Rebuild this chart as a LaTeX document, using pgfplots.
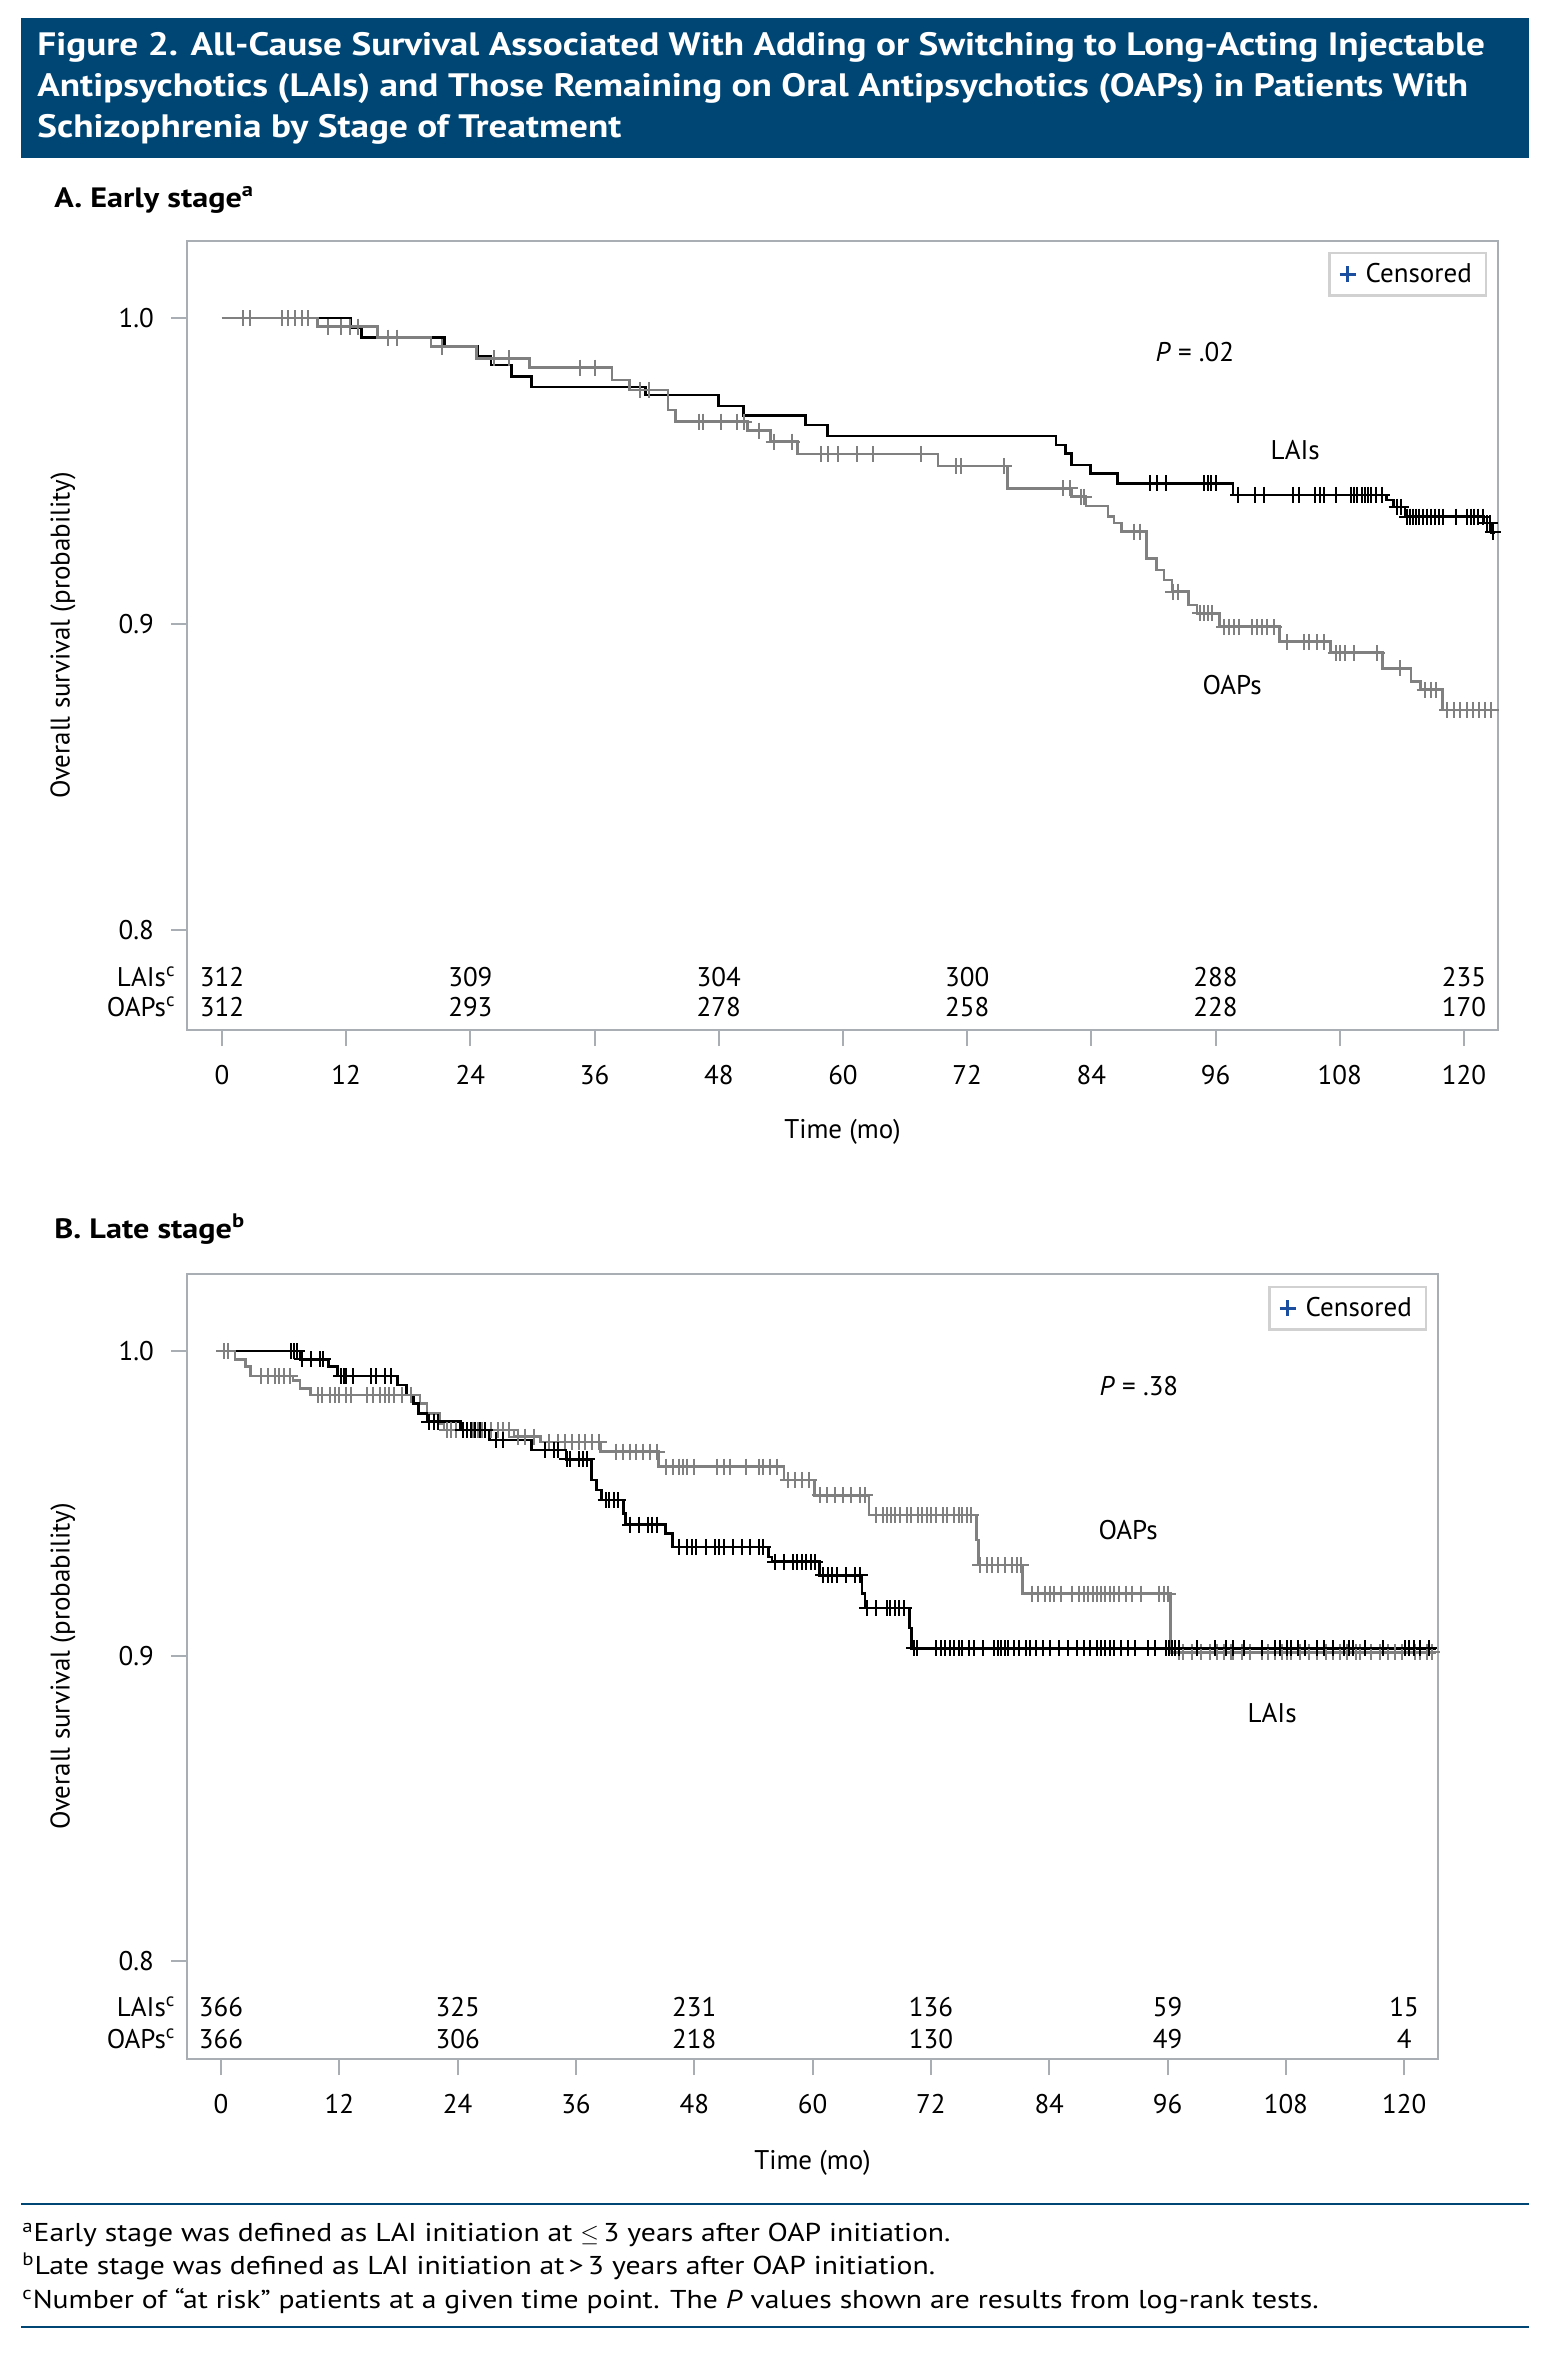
\documentclass[border=0pt]{standalone}
\usepackage{pgfplots}
\usepackage{pgfplotstable}
\pgfplotsset{compat=1.18}
\usepackage{fontspec}
\setmainfont{PT Sans}
\newfontfamily\widefont[FakeStretch=1.15]{PT Sans}

\definecolor{navy}{RGB}{0,70,117}
\definecolor{framegray}{RGB}{168,174,180}
\definecolor{kmgray}{RGB}{128,128,128}
\definecolor{censblue}{RGB}{28,78,160}

\newcommand\tfont{\fontsize{13.5}{16}\selectfont}

% ---------- panel A: early stage ----------
\pgfplotstableread{
t S
0 1.0
12.4 0.9968
13.5 0.9936
21.5 0.9906
24.7 0.9874
26.0 0.9846
28.0 0.9808
29.9 0.9775
40.9 0.9748
48.0 0.9712
50.4 0.9681
56.4 0.9650
58.5 0.9614
80.6 0.9585
81.5 0.9558
82.1 0.9520
83.9 0.9492
86.5 0.9460
97.7 0.9422
112.5 0.9405
113.2 0.9383
114.3 0.9351
121.9 0.9330
122.6 0.9300
123.0 0.9300
}\laiA

\pgfplotstableread{
t S
89.7 0.9460
90.3 0.9460
91.2 0.9460
94.9 0.9460
95.3 0.9460
95.6 0.9460
96.0 0.9460
98.2 0.9422
99.8 0.9422
100.7 0.9422
103.5 0.9422
104.1 0.9422
105.6 0.9422
106.1 0.9422
106.5 0.9422
107.6 0.9422
109.1 0.9422
109.4 0.9422
109.7 0.9422
110.1 0.9422
110.4 0.9422
110.7 0.9422
111.0 0.9422
111.5 0.9422
112.1 0.9422
113.5 0.9383
113.9 0.9383
114.5 0.9351
114.8 0.9351
115.1 0.9351
115.4 0.9351
115.7 0.9351
116.0 0.9351
116.4 0.9351
116.8 0.9351
117.2 0.9351
117.6 0.9351
118.0 0.9351
119.2 0.9351
120.3 0.9351
120.7 0.9351
121.0 0.9351
121.4 0.9351
121.8 0.9351
122.2 0.9330
122.5 0.9330
122.8 0.9300
}\laiAc

\pgfplotstableread{
t S
0 1.0
9.2 0.9972
15.0 0.9936
20.2 0.9906
24.6 0.9868
29.7 0.9838
37.7 0.9797
39.4 0.9765
43.1 0.9699
43.8 0.9661
50.8 0.9632
53.0 0.9596
55.6 0.9556
69.2 0.9517
75.9 0.9443
82.1 0.9416
83.5 0.9385
85.6 0.9351
86.2 0.9330
86.9 0.9302
89.3 0.9215
90.3 0.9176
91.0 0.9144
91.8 0.9106
93.4 0.9062
94.2 0.9035
96.4 0.8991
102.2 0.8942
107.1 0.8906
112.1 0.8855
114.9 0.8812
115.8 0.8785
117.9 0.8719
123.0 0.8719
}\oapA

\pgfplotstableread{
t S
2.0 1.0
2.7 1.0
5.8 1.0
6.4 1.0
7.1 1.0
7.7 1.0
8.3 1.0
10.2 0.9972
11.5 0.9972
12.4 0.9972
13.1 0.9972
16.0 0.9936
16.9 0.9936
21.3 0.9906
26.3 0.9868
27.7 0.9868
34.6 0.9838
36.0 0.9838
40.4 0.9765
41.3 0.9765
46.1 0.9661
46.5 0.9661
48.2 0.9661
49.8 0.9661
50.4 0.9661
51.9 0.9632
53.3 0.9596
55.1 0.9596
57.9 0.9556
58.6 0.9556
59.5 0.9556
61.4 0.9556
62.9 0.9556
67.5 0.9556
70.9 0.9517
71.4 0.9517
75.6 0.9517
81.3 0.9443
81.9 0.9443
83.0 0.9416
83.3 0.9416
88.1 0.9302
88.7 0.9302
91.9 0.9106
92.4 0.9106
94.5 0.9035
94.9 0.9035
95.3 0.9035
95.7 0.9035
96.8 0.8991
97.3 0.8991
97.8 0.8991
98.3 0.8991
99.5 0.8991
100.0 0.8991
100.5 0.8991
101.0 0.8991
101.6 0.8991
102.9 0.8942
104.5 0.8942
105.0 0.8942
105.8 0.8942
106.5 0.8942
107.6 0.8906
108.0 0.8906
108.5 0.8906
109.4 0.8906
111.6 0.8906
113.8 0.8855
116.2 0.8785
116.8 0.8785
117.3 0.8785
118.4 0.8719
119.0 0.8719
119.6 0.8719
120.3 0.8719
120.9 0.8719
121.5 0.8719
122.0 0.8719
122.6 0.8719
}\oapAc

% ---------- panel B: late stage ----------
\pgfplotstableread{
t S
0 1.0
8.0 0.9973
10.9 0.9949
11.8 0.9918
17.9 0.9889
18.8 0.9856
19.5 0.9827
20.0 0.9796
20.9 0.9768
24.3 0.9741
27.2 0.9708
31.5 0.9675
35.0 0.9645
37.6 0.9577
38.1 0.9544
38.6 0.9511
40.8 0.9467
41.0 0.9431
45.1 0.9402
45.8 0.9358
55.5 0.9325
55.9 0.9309
60.7 0.9265
65.0 0.9205
65.3 0.9157
69.8 0.9092
70.0 0.9025
123.2 0.9025
}\laiB

\pgfplotstableread{
t S
7.1 1.0
7.4 1.0
7.7 1.0
8.2 0.9973
9.1 0.9973
10.0 0.9973
10.3 0.9973
12.2 0.9918
12.5 0.9918
12.7 0.9918
13.4 0.9918
15.2 0.9918
15.7 0.9918
16.6 0.9918
17.2 0.9918
21.1 0.9768
21.6 0.9768
22.0 0.9768
24.5 0.9741
24.9 0.9741
25.4 0.9741
25.8 0.9741
26.3 0.9741
26.8 0.9741
27.9 0.9708
28.6 0.9708
32.9 0.9675
33.8 0.9675
34.2 0.9675
35.1 0.9645
35.4 0.9645
36.3 0.9645
36.7 0.9645
37.1 0.9645
39.0 0.9511
39.4 0.9511
39.9 0.9511
40.3 0.9511
41.5 0.9431
42.4 0.9431
43.3 0.9431
43.7 0.9431
44.2 0.9431
46.4 0.9358
47.3 0.9358
47.8 0.9358
48.2 0.9358
49.2 0.9358
50.1 0.9358
50.5 0.9358
51.0 0.9358
51.9 0.9358
52.8 0.9358
53.7 0.9358
54.6 0.9358
55.0 0.9358
56.2 0.9309
57.1 0.9309
58.0 0.9309
58.4 0.9309
58.9 0.9309
59.3 0.9309
59.8 0.9309
60.2 0.9309
61.1 0.9265
61.6 0.9265
62.0 0.9265
62.5 0.9265
63.4 0.9265
64.3 0.9265
64.8 0.9265
65.5 0.9157
66.4 0.9157
67.5 0.9157
67.9 0.9157
68.4 0.9157
68.8 0.9157
69.3 0.9157
70.3 0.9025
70.6 0.9025
72.5 0.9025
73.0 0.9025
73.4 0.9025
73.9 0.9025
74.3 0.9025
74.8 0.9025
75.2 0.9025
75.9 0.9025
76.4 0.9025
77.3 0.9025
78.4 0.9025
78.8 0.9025
79.1 0.9025
79.5 0.9025
79.8 0.9025
80.4 0.9025
80.9 0.9025
81.6 0.9025
82.0 0.9025
82.7 0.9025
83.4 0.9025
84.1 0.9025
85.0 0.9025
85.9 0.9025
86.8 0.9025
87.5 0.9025
88.1 0.9025
88.8 0.9025
89.3 0.9025
89.7 0.9025
90.2 0.9025
90.6 0.9025
91.3 0.9025
92.0 0.9025
92.7 0.9025
94.0 0.9025
94.7 0.9025
95.8 0.9025
96.1 0.9025
96.5 0.9025
96.8 0.9025
97.2 0.9025
99.0 0.9025
100.8 0.9025
101.9 0.9025
102.6 0.9025
103.8 0.9025
105.6 0.9025
106.9 0.9025
107.4 0.9025
108.1 0.9025
108.5 0.9025
109.2 0.9025
109.9 0.9025
111.2 0.9025
111.9 0.9025
112.8 0.9025
113.9 0.9025
114.4 0.9025
114.8 0.9025
116.0 0.9025
117.8 0.9025
120.1 0.9025
120.5 0.9025
121.0 0.9025
121.6 0.9025
122.5 0.9025
}\laiBc

\pgfplotstableread{
t S
0 1.0
1.4 0.9973
2.5 0.9949
3.0 0.9918
7.3 0.9904
8.0 0.9877
9.1 0.9856
20.2 0.9827
20.9 0.9796
22.2 0.9763
22.6 0.9741
29.7 0.9719
32.4 0.9702
38.5 0.9670
44.4 0.9621
57.1 0.9577
60.2 0.9527
65.7 0.9462
76.6 0.9380
76.8 0.9298
81.3 0.9205
96.3 0.9012
123.2 0.9012
}\oapB

\pgfplotstableread{
t S
0.3 1.0
0.7 1.0
4.1 0.9918
4.8 0.9918
5.5 0.9918
5.9 0.9918
6.4 0.9918
7.0 0.9918
9.8 0.9856
10.2 0.9856
11.1 0.9856
11.6 0.9856
12.0 0.9856
12.7 0.9856
13.2 0.9856
14.8 0.9856
15.4 0.9856
16.1 0.9856
16.6 0.9856
17.0 0.9856
17.5 0.9856
18.4 0.9856
19.3 0.9856
22.9 0.9741
23.3 0.9741
23.8 0.9741
24.5 0.9741
24.9 0.9741
25.6 0.9741
26.1 0.9741
26.5 0.9741
27.4 0.9741
28.1 0.9741
28.6 0.9741
29.2 0.9741
30.1 0.9719
30.8 0.9719
31.7 0.9719
33.3 0.9702
34.2 0.9702
34.9 0.9702
35.6 0.9702
36.3 0.9702
36.9 0.9702
37.6 0.9702
38.3 0.9702
40.1 0.9670
40.8 0.9670
41.5 0.9670
42.1 0.9670
42.8 0.9670
43.5 0.9670
44.2 0.9670
45.1 0.9621
45.8 0.9621
46.4 0.9621
46.9 0.9621
47.3 0.9621
48.0 0.9621
50.3 0.9621
51.0 0.9621
51.6 0.9621
53.2 0.9621
54.6 0.9621
55.0 0.9621
55.7 0.9621
56.4 0.9621
57.5 0.9577
58.2 0.9577
58.9 0.9577
59.6 0.9577
60.7 0.9527
61.5 0.9527
62.3 0.9527
63.1 0.9527
63.9 0.9527
64.8 0.9527
65.3 0.9527
66.4 0.9462
67.1 0.9462
67.5 0.9462
68.0 0.9462
68.4 0.9462
68.9 0.9462
69.6 0.9462
70.0 0.9462
70.7 0.9462
71.1 0.9462
71.6 0.9462
72.0 0.9462
72.5 0.9462
73.2 0.9462
73.6 0.9462
74.3 0.9462
74.8 0.9462
75.2 0.9462
75.7 0.9462
76.1 0.9462
77.0 0.9298
77.7 0.9298
78.2 0.9298
78.8 0.9298
79.5 0.9298
80.2 0.9298
80.7 0.9298
81.1 0.9298
82.3 0.9205
82.9 0.9205
83.6 0.9205
84.1 0.9205
84.5 0.9205
85.2 0.9205
86.3 0.9205
87.0 0.9205
87.5 0.9205
87.9 0.9205
88.4 0.9205
88.8 0.9205
89.3 0.9205
89.7 0.9205
90.2 0.9205
90.6 0.9205
91.1 0.9205
91.8 0.9205
92.4 0.9205
93.3 0.9205
95.1 0.9205
95.6 0.9205
96.0 0.9205
97.2 0.9012
97.6 0.9012
98.5 0.9012
99.4 0.9012
100.3 0.9012
101.0 0.9012
101.7 0.9012
102.4 0.9012
102.6 0.9012
103.5 0.9012
104.4 0.9012
105.6 0.9012
106.2 0.9012
106.9 0.9012
107.6 0.9012
108.1 0.9012
108.5 0.9012
109.4 0.9012
110.3 0.9012
111.2 0.9012
112.1 0.9012
112.8 0.9012
113.5 0.9012
114.2 0.9012
115.1 0.9012
115.5 0.9012
116.6 0.9012
117.5 0.9012
118.4 0.9012
119.1 0.9012
119.8 0.9012
121.1 0.9012
121.6 0.9012
122.3 0.9012
122.8 0.9012
}\oapBc

\pgfplotsset{
  km/.style={
    scale only axis, clip=false,
    axis line style={framegray, line width=1.3pt},
    xtick={0,12,...,120}, ytick={0.8,0.9,1.0},
    xtick pos=bottom, ytick pos=left,
    tick align=outside, major tick length=8pt,
    every tick/.style={framegray, line width=1pt},
    /pgf/number format/assume math mode=true,
    ticklabel style={font=\tfont},
    xticklabel style={yshift=-6pt},
    yticklabel style={xshift=-5pt, /pgf/number format/.cd, fixed, fixed zerofill, precision=1},
    label style={font=\tfont},
    legend style={draw=black!18, line width=1.2pt, font=\tfont,
      inner xsep=5pt, inner ysep=3pt, legend cell align=left},
  },
  laistep/.style={black, line width=1.3pt, const plot, mark=none, forget plot},
  oapstep/.style={kmgray, line width=1.3pt, const plot, mark=none, forget plot},
  cens/.style={only marks, mark=+, mark size=4pt, line width=1pt, forget plot},
  atrisk/.style={draw=none, mark=none, forget plot, nodes near coords,
    point meta=explicit symbolic,
    nodes near coords style={anchor=center, font=\tfont, text=black}},
}

\begin{document}
\begin{tikzpicture}
\path[use as bounding box, fill=white] (0pt,0pt) rectangle (770.5pt,-1178pt);

% title banner
\fill[navy] (10.5pt,-9pt) rectangle (764.5pt,-79pt);
\begin{scope}[every node/.style={anchor=base west, inner sep=0pt, text=white,
    font=\widefont\fontsize{16.2}{20}\selectfont\bfseries}]
\node at (18.5pt,-27.5pt) {Figure 2. All-Cause Survival Associated With Adding or Switching to Long-Acting Injectable};
\node at (18.5pt,-48pt) {Antipsychotics (LAIs) and Those Remaining on Oral Antipsychotics (OAPs) in Patients With};
\node at (18.5pt,-68.5pt) {Schizophrenia by Stage of Treatment};
\end{scope}

\node[anchor=base west, inner sep=0pt, font=\widefont\fontsize{14}{16}\selectfont\bfseries]
  at (27pt,-103.5pt) {A. Early stage\textsuperscript{a}};

\begin{axis}[km,
  at={(93.5pt,-515pt)}, anchor=south west,
  width=655.5pt, height=394.5pt,
  xmin=-3.38, xmax=123.29, ymin=0.76732, ymax=1.02516,
  xlabel={Time (mo)}, ylabel={Overall survival (probability)},
  xlabel style={at={(axis description cs:0.5,-0.1293)}, anchor=center},
  ylabel style={at={(axis description cs:-0.0946,0.5)}, anchor=center},
  legend style={at={(0.9916,0.986)}, anchor=north east},
]
\addplot[laistep] table[x=t,y=S] {\laiA};
\addplot[cens, black] table[x=t,y=S] {\laiAc};
\addplot[oapstep] table[x=t,y=S] {\oapA};
\addplot[cens, kmgray] table[x=t,y=S] {\oapAc};
\addplot[atrisk] coordinates {(0,0.78464)[312] (24,0.78464)[309] (48,0.78464)[304]
  (72,0.78464)[300] (96,0.78464)[288] (120,0.78464)[235]};
\addplot[atrisk] coordinates {(0,0.77484)[312] (24,0.77484)[293] (48,0.77484)[278]
  (72,0.77484)[258] (96,0.77484)[228] (120,0.77484)[170]};
\addlegendimage{only marks, mark=+, censblue, mark size=4pt, line width=1.2pt}
\addlegendentry{\hspace{3pt}Censored}
\node[anchor=east, font=\tfont] at (axis cs:-3.8,0.78464) {LAIs\textsuperscript{c}};
\node[anchor=east, font=\tfont] at (axis cs:-3.8,0.77484) {OAPs\textsuperscript{c}};
\node[font=\tfont] at (axis cs:94,0.989) {\textit{P} = .02};
\node[font=\tfont] at (axis cs:103.7,0.957) {LAIs};
\node[font=\tfont] at (axis cs:97.6,0.880) {OAPs};
\end{axis}

\node[anchor=base west, inner sep=0pt, font=\widefont\fontsize{14}{16}\selectfont\bfseries]
  at (27pt,-619pt) {B. Late stage\textsuperscript{b}};

\begin{axis}[km,
  at={(93.5pt,-1029.5pt)}, anchor=south west,
  width=625.5pt, height=392.5pt,
  xmin=-3.45, xmax=123.43, ymin=0.76787, ymax=1.02525,
  xlabel={Time (mo)}, ylabel={Overall survival (probability)},
  xlabel style={at={(axis description cs:0.5,-0.1325)}, anchor=center},
  ylabel style={at={(axis description cs:-0.0991,0.5)}, anchor=center},
  legend style={at={(0.9912,0.9847)}, anchor=north east},
]
\addplot[oapstep] table[x=t,y=S] {\oapB};
\addplot[cens, kmgray] table[x=t,y=S] {\oapBc};
\addplot[laistep] table[x=t,y=S] {\laiB};
\addplot[cens, black] table[x=t,y=S] {\laiBc};
\addplot[atrisk] coordinates {(0,0.78492)[366] (24,0.78492)[325] (48,0.78492)[231]
  (72,0.78492)[136] (96,0.78492)[59] (120,0.78492)[15]};
\addplot[atrisk] coordinates {(0,0.77443)[366] (24,0.77443)[306] (48,0.77443)[218]
  (72,0.77443)[130] (96,0.77443)[49] (120,0.77443)[4]};
\addlegendimage{only marks, mark=+, censblue, mark size=4pt, line width=1.2pt}
\addlegendentry{\hspace{3pt}Censored}
\node[anchor=east, font=\tfont] at (axis cs:-3.9,0.78492) {LAIs\textsuperscript{c}};
\node[anchor=east, font=\tfont] at (axis cs:-3.9,0.77443) {OAPs\textsuperscript{c}};
\node[font=\tfont] at (axis cs:93.1,0.9885) {\textit{P} = .38};
\node[font=\tfont] at (axis cs:92,0.9413) {OAPs};
\node[font=\tfont] at (axis cs:106.6,0.8813) {LAIs};
\end{axis}

% footnotes
\draw[navy, line width=1.4pt] (10.5pt,-1102pt) -- (764.5pt,-1102pt);
\draw[navy, line width=1.4pt] (10.5pt,-1163.5pt) -- (764.5pt,-1163.5pt);
\begin{scope}[every node/.style={anchor=base west, inner sep=0pt,
    font=\widefont\fontsize{12.9}{15}\selectfont}]
\node at (11pt,-1120.5pt) {\textsuperscript{a}Early stage was defined as LAI initiation at $\leq$\,3 years after OAP initiation.};
\node at (11pt,-1137pt) {\textsuperscript{b}Late stage was defined as LAI initiation at\,>\,3 years after OAP initiation.};
\node at (11pt,-1154pt) {\textsuperscript{c}Number of “at risk” patients at a given time point. The \textit{P} values shown are results from log-rank tests.};
\end{scope}
\end{tikzpicture}
\end{document}
